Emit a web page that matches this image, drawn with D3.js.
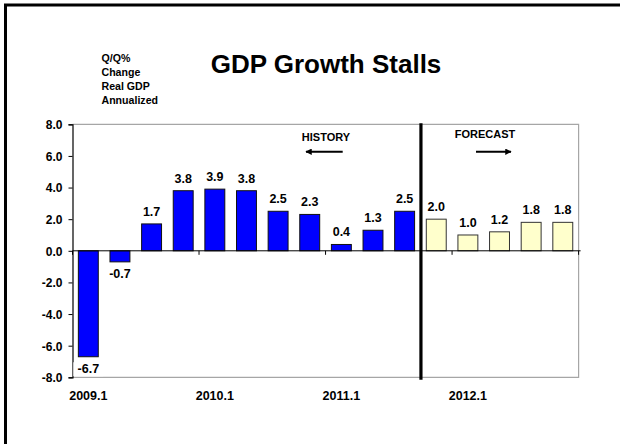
<!DOCTYPE html>
<html>
<head>
<meta charset="utf-8">
<script src="https://cdn.jsdelivr.net/npm/d3@7"></script>
<style>
  html, body { margin: 0; padding: 0; background: #fff; }
  svg { display: block; }
  text { font-family: "Liberation Sans", Arial, Helvetica, sans-serif; font-weight: bold; fill: #000; }
</style>
</head>
<body>
<svg id="chart" width="620" height="444"></svg>
<script>
// ---- data ----
const categories = ["2009.1","2009.2","2009.3","2009.4","2010.1","2010.2","2010.3","2010.4",
                    "2011.1","2011.2","2011.3","2011.4","2012.1","2012.2","2012.3","2012.4"];
const values = [-6.7, -0.7, 1.7, 3.8, 3.9, 3.8, 2.5, 2.3, 0.4, 1.3, 2.5, 2.0, 1.0, 1.2, 1.8, 1.8];
const forecastFrom = "2011.4";
const yTicks = [-8, -6, -4, -2, 0, 2, 4, 6, 8];
const xTickLabels = ["2009.1", "2010.1", "2011.1", "2012.1"];
const xTickMarks = ["2009.1", "2010.1", "2011.1", "2012.1"];
const titleText = "GDP Growth Stalls";
const yLabelLines = ["Q/Q%", "Change", "Real GDP", "Annualized"];

// ---- layout ----
const svg = d3.select("#chart");
const L = 72.5, R = 578.6, T = 124.3, B = 377.3;

const x = d3.scaleBand().domain(categories).range([L, R]).paddingInner(0.37).paddingOuter(0.185);
const y = d3.scaleLinear().domain([-8, 8]).range([B, T]);
const step = x.step();
const boundary = c => x(c) - step * x.paddingInner() / 2;
const fcIdx = categories.indexOf(forecastFrom);

// outer frame
svg.append("rect").attr("x", 5.5).attr("y", 5).attr("width", 700).attr("height", 600)
  .attr("fill", "none").attr("stroke", "#000").attr("stroke-width", 3);

// title
svg.append("text").attr("x", 326).attr("y", 73).attr("text-anchor", "middle")
  .style("font-size", "26px").text(titleText);

// y label
svg.append("g").selectAll("text").data(yLabelLines).join("text")
  .attr("x", 101.5).attr("y", (d, i) => 61.5 + i * 14)
  .style("font-size", "10.6px").text(d => d);

// plot frame (grey top/right/bottom)
svg.append("path")
  .attr("d", `M${L},${T}H${R}V${B}H${L}`)
  .attr("fill", "none").attr("stroke", "#a6a6a6").attr("stroke-width", 1.2);

// bars
svg.append("g").selectAll("rect").data(values).join("rect")
  .attr("x", (d, i) => x(categories[i]))
  .attr("width", x.bandwidth())
  .attr("y", d => y(Math.max(0, d)))
  .attr("height", d => Math.abs(y(d) - y(0)))
  .attr("fill", (d, i) => i >= fcIdx ? "#FFFFCC" : "#0000FF")
  .attr("stroke", (d, i) => i >= fcIdx ? "#333" : "#111")
  .attr("stroke-width", 1);

// zero axis with ticks at year boundaries
const zeroG = svg.append("g");
zeroG.append("line").attr("x1", L).attr("x2", R + 2).attr("y1", y(0)).attr("y2", y(0))
  .attr("stroke", "#000").attr("stroke-width", 1);
const tickXs = xTickMarks.map(boundary).concat([R]);
zeroG.selectAll("line.t").data(tickXs).join("line").attr("class", "t")
  .attr("x1", d => d).attr("x2", d => d).attr("y1", y(0)).attr("y2", y(0) + 4)
  .attr("stroke", "#000").attr("stroke-width", 1);

// y axis
const yAxis = d3.axisLeft(y).tickValues(yTicks).tickSize(4).tickPadding(6)
  .tickFormat(d => d.toFixed(1));
const yg = svg.append("g").attr("transform", `translate(${L},0)`).call(yAxis);
yg.select(".domain").attr("stroke", "#000").attr("stroke-width", 1.2);
yg.selectAll(".tick line").attr("stroke", "#000");
yg.selectAll(".tick text").style("font-size", "12px")
  .style("font-family", "'Liberation Sans', Arial, sans-serif").style("font-weight", "bold")
  .attr("fill", "#000").attr("x", -10).attr("dy", "0.36em");

// data labels
const lab = svg.append("g").selectAll("g").data(values).join("g")
  .attr("transform", (d, i) => {
    const cx = x(categories[i]) + x.bandwidth() / 2;
    const by = d >= 0 ? y(d) - 8 : y(d) + 16.5;
    return `translate(${cx},${by})`;
  });
lab.append("rect").attr("x", -15).attr("y", -11).attr("width", 30).attr("height", 14)
  .attr("fill", "#fff");
lab.append("text").attr("text-anchor", "middle").style("font-size", "12.5px")
  .text(d => d.toFixed(1));

// x labels
svg.append("g").selectAll("text").data(xTickLabels).join("text")
  .attr("x", d => x(d) + x.bandwidth() / 2).attr("y", 400)
  .attr("text-anchor", "middle").style("font-size", "12.5px").text(d => d);

// divider
const dx = boundary(forecastFrom) + 0.5;
svg.append("line").attr("x1", dx).attr("x2", dx).attr("y1", T - 1).attr("y2", B + 2.5)
  .attr("stroke", "#000").attr("stroke-width", 3.2);

// history / forecast annotations
svg.append("defs").append("marker").attr("id", "ah")
  .attr("viewBox", "0 0 10 10").attr("refX", 9).attr("refY", 5)
  .attr("markerWidth", 4).attr("markerHeight", 3.2).attr("orient", "auto-start-reverse")
  .append("path").attr("d", "M0,0L10,5L0,10z").attr("fill", "#000");

svg.append("text").attr("x", 326).attr("y", 141).attr("text-anchor", "middle")
  .style("font-size", "11px").text("HISTORY");
svg.append("line").attr("x1", 342.7).attr("x2", 306).attr("y1", 151.7).attr("y2", 151.7)
  .attr("stroke", "#000").attr("stroke-width", 2).attr("marker-end", "url(#ah)");

svg.append("text").attr("x", 485).attr("y", 137.7).attr("text-anchor", "middle")
  .style("font-size", "11px").text("FORECAST");
svg.append("line").attr("x1", 476).attr("x2", 511).attr("y1", 151.7).attr("y2", 151.7)
  .attr("stroke", "#000").attr("stroke-width", 2).attr("marker-end", "url(#ah)");
</script>
</body>
</html>
